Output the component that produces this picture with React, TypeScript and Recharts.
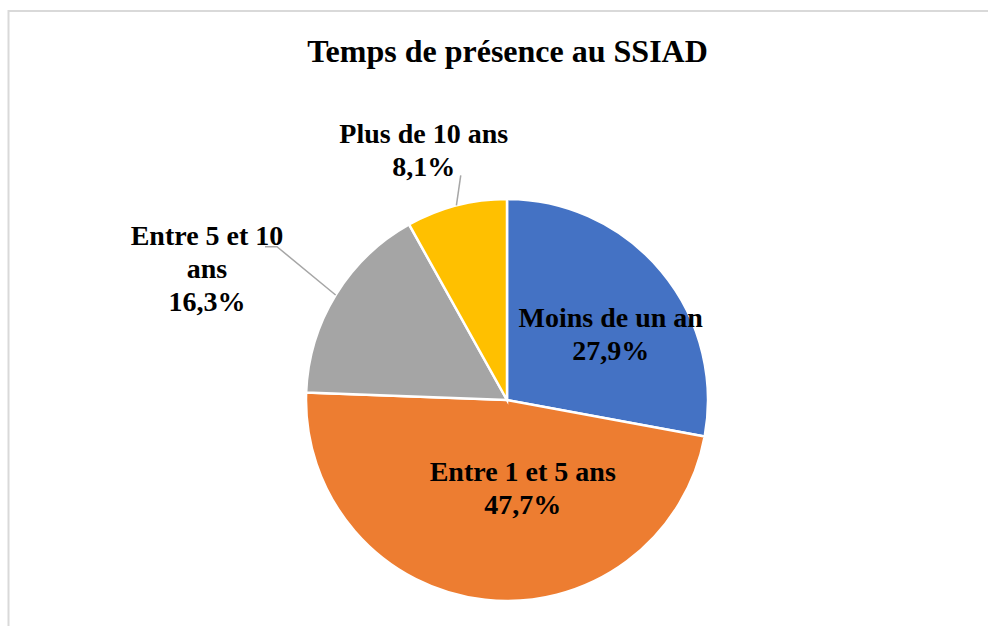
import React from "react";
import { PieChart, Pie, Cell } from "recharts";

const categories = ["Moins de un an", "Entre 1 et 5 ans", "Entre 5 et 10 ans", "Plus de 10 ans"];
const values = [27.9, 47.7, 16.3, 8.1];
const labelLines = [["Moins de un an"], ["Entre 1 et 5 ans"], ["Entre 5 et 10", "ans"], ["Plus de 10 ans"]];
const colors = ["#4472C4", "#ED7D31", "#A5A5A5", "#FFC000"];
const title = "Temps de présence au SSIAD";

const data = categories.map((name, i) => ({ name, value: values[i] }));

// label layout: radius factor, offset, and leader line (relative to label anchor)
const labelLayout = [
  { k: 0.6, dx: 11, dy: 12, leader: null as null | number[][] },
  { k: 0.6, dx: 29, dy: -31, leader: null },
  { k: 1.45, dx: -51.5, dy: 21, leader: [[70, -22], [58, -22]] },
  { k: 1.25, dx: -20, dy: -6, leader: [[37, 24.5]] },
];

const FONT = "'Liberation Serif', 'Times New Roman', serif";
const RAD = Math.PI / 180;

const renderLabel = (props: any) => {
  const { cx, cy, midAngle, outerRadius, index } = props;
  const L = labelLayout[index];
  const r = outerRadius * L.k;
  const ax = cx + r * Math.cos(-midAngle * RAD) + L.dx;
  const ay = cy + r * Math.sin(-midAngle * RAD) + L.dy;
  const lines = [...labelLines[index], values[index].toFixed(1).replace(".", ",") + "%"];
  const lineH = 33;
  const n = lines.length;
  let leader = null;
  if (L.leader) {
    const sx = cx + outerRadius * Math.cos(-midAngle * RAD);
    const sy = cy + outerRadius * Math.sin(-midAngle * RAD);
    const pts = [[sx, sy], ...L.leader.map(([x, y]) => [ax + x, ay + y])];
    leader = (
      <polyline
        points={pts.map((p) => p.join(",")).join(" ")}
        fill="none"
        stroke="#A6A6A6"
        strokeWidth={1.5}
      />
    );
  }
  return (
    <g key={"lbl" + index}>
      {leader}
      <text
        x={ax}
        y={ay}
        textAnchor="middle"
        fontFamily={FONT}
        fontWeight="bold"
        fontSize={28}
        fill="#000"
      >
        {lines.map((t, i) => (
          <tspan key={i} x={ax} y={ay + (i - (n - 1) / 2) * lineH + 9}>
            {t}
          </tspan>
        ))}
      </text>
    </g>
  );
};

export default function App() {
  return (
    <div style={{ position: "fixed", left: 0, top: 0, width: 988, height: 626, overflow: "hidden", background: "#fff" }}>
      <svg width={988} height={626} style={{ position: "absolute", left: 0, top: 0 }}>
        <rect x={8.5} y={11} width={1100} height={700} fill="#fff" stroke="#D9D9D9" strokeWidth={2} />
        <text x={507.5} y={62} textAnchor="middle" fontFamily={FONT} fontWeight="bold" fontSize={32} fill="#000">
          {title}
        </text>
      </svg>
      <div style={{ position: "absolute", left: 0, top: 0 }}>
        <PieChart width={988} height={626} margin={{ top: 0, right: 0, bottom: 0, left: 0 }}>
          <Pie
            data={data}
            dataKey="value"
            nameKey="name"
            cx={507}
            cy={400}
            outerRadius={201}
            startAngle={90}
            endAngle={-270}
            stroke="#fff"
            strokeWidth={2.5}
            label={renderLabel}
            labelLine={false}
            isAnimationActive={false}
          >
            {data.map((d, i) => (
              <Cell key={d.name} fill={colors[i]} />
            ))}
          </Pie>
        </PieChart>
      </div>
    </div>
  );
}
